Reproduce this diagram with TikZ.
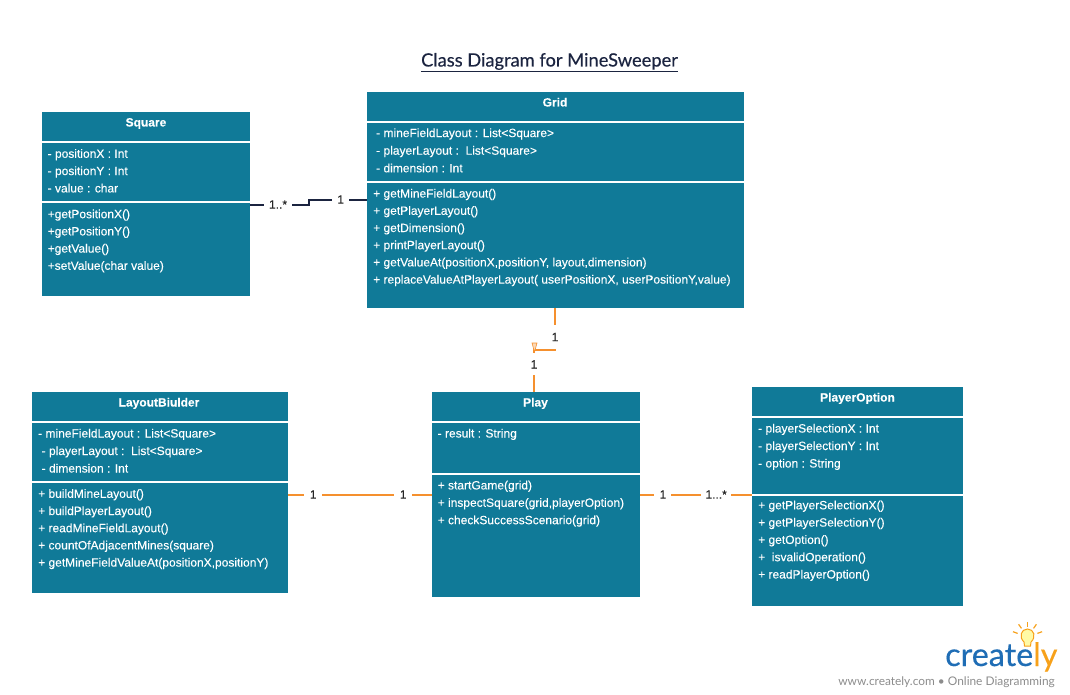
\documentclass[tikz,border=0pt]{standalone}
\usepackage{fontspec}
\setmainfont{Liberation Sans}[FakeBold=0.12]
\newfontfamily\latofont{Lato}[FakeBold=0.35]
\newfontfamily\latotag{Lato}
\definecolor{classteal}{HTML}{107A98}
\definecolor{linkorange}{HTML}{F5902E}
\definecolor{linknavy}{HTML}{1B2440}
\definecolor{logoblue}{HTML}{1F6DB5}
\definecolor{logoorange}{HTML}{F7A11A}
\tikzset{
  classpart/.style={fill=classteal, draw=none, anchor=north west, inner sep=0pt, outer sep=0pt},
  classhead/.style={text=white, font=\fontsize{12}{14}\selectfont\bfseries, inner sep=0pt, text height=10pt, text depth=2pt},
  member/.style={text=white, anchor=west, font=\fontsize{12}{14}\selectfont, inner sep=0pt, text height=10pt, text depth=2pt},
  mult/.style={fill=white, text=black!85, font=\fontsize{12}{14}\selectfont, inner sep=0pt, minimum height=14pt},
  orangelink/.style={draw=linkorange, line width=2pt},
  navylink/.style={draw=linknavy, line width=2pt}
}
\begin{document}
\begin{tikzpicture}[x=1pt,y=-1pt]
        \useasboundingbox (0,0) rectangle (1070,695);

        %%% title %%%
        \draw (549.5,66.5) node[anchor=base, inner sep=0pt, text depth=4.5pt, text=linknavy, font=\latofont\fontsize{18.3}{20}\selectfont] (title) {Class Diagram for MineSweeper};
        \draw[linknavy, line width=1.3pt] (title.south west) -- (title.south east);

        %%% Square %%%
        \draw (42,112) node[classpart, minimum width=208pt, minimum height=29pt] (squarehead) {};
        \draw (42,143) node[classpart, minimum width=208pt, minimum height=58pt] (squareattrs) {};
        \draw (42,203) node[classpart, minimum width=208pt, minimum height=93pt] (squareops) {};
        \draw (146,122.5) node[classhead] (squarename) {Square};
        \foreach \t [count=\i] in {- positionX : Int, - positionY : Int, - value : char}{
          \draw (47.5,136.5+17.3*\i) node[member] (squareattr\i) {\t};
        }
        \foreach \t [count=\i] in {+getPositionX(), +getPositionY(), +getValue(), +setValue(char value)}{
          \draw (47.5,197+17.2*\i) node[member] (squareop\i) {\t};
        }

        %%% Grid %%%
        \draw (367,92) node[classpart, minimum width=377pt, minimum height=29pt] (gridhead) {};
        \draw (367,123) node[classpart, minimum width=377pt, minimum height=58pt] (gridattrs) {};
        \draw (367,183) node[classpart, minimum width=377pt, minimum height=125pt] (gridops) {};
        \draw (555,102.5) node[classhead] (gridname) {Grid};
        \foreach \t [count=\i] in {- mineFieldLayout : List<Square>, - playerLayout :\ \ List<Square>, - dimension : Int}{
          \draw (376,115.5+17.6*\i) node[member] (gridattr\i) {\t};
        }
        \foreach \t [count=\i] in {+ getMineFieldLayout(), + getPlayerLayout(), + getDimension(), + printPlayerLayout(),
          {+ getValueAt(positionX,positionY, layout,dimension)}, {+ replaceValueAtPlayerLayout( userPositionX, userPositionY,value)}}{
          \draw (373,176.4+17.2*\i) node[member] (gridop\i) {\t};
        }

        %%% LayoutBiulder %%%
        \draw (32,392) node[classpart, minimum width=256pt, minimum height=29pt] (builderhead) {};
        \draw (32,423) node[classpart, minimum width=256pt, minimum height=58pt] (builderattrs) {};
        \draw (32,483) node[classpart, minimum width=256pt, minimum height=110pt] (builderops) {};
        \draw (159,402.5) node[classhead] (buildername) {LayoutBiulder};
        \draw (38,433.5) node[member] (builderattr1) {- mineFieldLayout : List<Square>};
        \draw (41.5,451) node[member] (builderattr2) {- playerLayout :\ \ List<Square>};
        \draw (41.5,468.5) node[member] (builderattr3) {- dimension : Int};
        \foreach \t [count=\i] in {+ buildMineLayout(), + buildPlayerLayout(), + readMineFieldLayout(),
          + countOfAdjacentMines(square), {+ getMineFieldValueAt(positionX,positionY)}}{
          \draw (38,476.6+17.2*\i) node[member] (builderop\i) {\t};
        }

        %%% Play %%%
        \draw (432,392) node[classpart, minimum width=208pt, minimum height=29pt] (playhead) {};
        \draw (432,423) node[classpart, minimum width=208pt, minimum height=50pt] (playattrs) {};
        \draw (432,475) node[classpart, minimum width=208pt, minimum height=122pt] (playops) {};
        \draw (535.5,402.5) node[classhead] (playname) {Play};
        \draw (437.5,433.5) node[member] (playattr1) {- result : String};
        \foreach \t [count=\i] in {+ startGame(grid), {+ inspectSquare(grid,playerOption)}, + checkSuccessScenario(grid)}{
          \draw (437.5,468+17.4*\i) node[member] (playop\i) {\t};
        }

        %%% PlayerOption %%%
        \draw (752,387) node[classpart, minimum width=211pt, minimum height=29pt] (optionhead) {};
        \draw (752,418) node[classpart, minimum width=211pt, minimum height=76pt] (optionattrs) {};
        \draw (752,496) node[classpart, minimum width=211pt, minimum height=110pt] (optionops) {};
        \draw (857.5,397.5) node[classhead] (optionname) {PlayerOption};
        \foreach \t [count=\i] in {- playerSelectionX : Int, - playerSelectionY : Int, - option : String}{
          \draw (758,411+17.5*\i) node[member] (optionattr\i) {\t};
        }
        \foreach \t [count=\i] in {+ getPlayerSelectionX(), + getPlayerSelectionY(), + getOption(), +\ \ isvalidOperation(), + readPlayerOption()}{
          \draw (758,488+17.3*\i) node[member] (optionop\i) {\t};
        }

        %%% links %%%
        \coordinate (squarelink) at (250,204.5);
        \coordinate (squarebend) at (308.5,204.5);
        \coordinate (gridbend) at (308.5,199.5);
        \coordinate (gridlink) at (367,199.5);
        \draw[navylink] (squarelink) -- node[mult, pos=.48, minimum width=28pt] (multsquare) {1..*} (squarebend)
          -- (gridbend) -- node[mult, pos=.55, minimum width=17pt] (multgrid) {1} (gridlink);

        \coordinate (griddown) at (555,308);
        \coordinate (gridturn) at (555,349.5);
        \coordinate (playturn) at (534,349.5);
        \coordinate (playup) at (534,392);
        \draw[orangelink] (griddown) -- node[mult, pos=.7, minimum width=12pt, minimum height=24pt] (multgriddown) {1} (gridturn)
          -- (playturn) -- node[mult, pos=.35, minimum width=12pt, minimum height=22pt] (multplayup) {1} (playup);
        \fill[linkorange!35, draw=linkorange, line width=.6pt] (532,343) -- (537,343) -- (534.5,352) -- cycle;

        \coordinate (builderlink) at (288,494.5);
        \coordinate (playleft) at (432,494.5);
        \draw[orangelink] (builderlink) -- node[mult, pos=.175, minimum width=18pt] (multbuilder) {1} node[mult, pos=.8, minimum width=18pt] (multplay) {1} (playleft);

        \coordinate (playright) at (640,494.5);
        \coordinate (optionlink) at (752,494.5);
        \draw[orangelink] (playright) -- node[mult, pos=.205, minimum width=17pt] (multplayright) {1} node[mult, pos=.68, minimum width=30pt] (multoption) {1...*} (optionlink);

        %%% logo %%%
        \draw (945,666) node[anchor=base west, inner sep=0pt, text=logoblue, font=\latofont\fontsize{32.3}{36}\selectfont] (logoword) {create\textcolor{logoorange}{ly}};
        \draw (1055,682) node[anchor=east, inner sep=0pt, text=black!45, font=\latotag\fontsize{11.9}{13}\selectfont] (logotag) {www.creately.com \textbullet\ Online Diagramming};
        \fill[yellow!35!white, draw=logoorange, line width=1pt] (1024.5,646) -- (1024,642) .. controls (1018.5,637) and (1021,629) .. (1027.5,629) .. controls (1034,629) and (1036.5,637) .. (1031,642) -- (1030.5,646) -- cycle;
        \foreach \a in {-160,-125,-90,-55,-20}{
          \draw[logoorange, line width=1.2pt] (1027.5,637) ++(\a:10.5) -- ++(\a:5);
        }
\end{tikzpicture}
\end{document}
